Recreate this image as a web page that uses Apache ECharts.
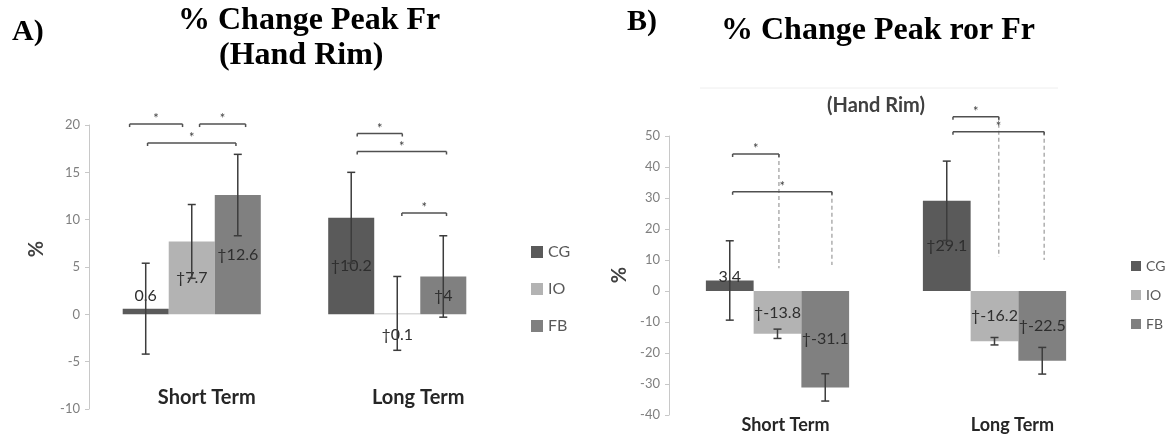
<!DOCTYPE html>
<html>
<head>
<meta charset="utf-8">
<script src="https://cdn.jsdelivr.net/npm/echarts@6/dist/echarts.min.js"></script>
<style>
  html, body { margin: 0; padding: 0; background: #fff; }
  #chart { width: 1170px; height: 437px; }
</style>
</head>
<body>
<div id="chart"></div>
<script>
// ---- data ----
const categories = ['Short Term', 'Long Term'];
const groups = ['CG', 'IO', 'FB'];

// A) % change in peak Fr (hand rim)
const peakFrCG = [0.6, 10.2];
const peakFrIO = [7.7, 0.1];
const peakFrFB = [12.6, 4];
const peakFrErrCG = [4.8, 4.8];
const peakFrErrIO = [3.9, 3.9];
const peakFrErrFB = [4.3, 4.3];
const peakFrDaggerCG = [false, true];
const peakFrDaggerIO = [true, true];
const peakFrDaggerFB = [true, true];
const peakFrTicks = { min: -10, max: 20, interval: 5 };

// B) % change in peak rate of rise of Fr (hand rim)
const rorFrCG = [3.4, 29.1];
const rorFrIO = [-13.8, -16.2];
const rorFrFB = [-31.1, -22.5];
const rorFrErrCG = [12.8, 12.8];
const rorFrErrIO = [1.5, 1.2];
const rorFrErrFB = [4.4, 4.3];
const rorFrDaggerCG = [false, true];
const rorFrDaggerIO = [true, true];
const rorFrDaggerFB = [true, true];
const rorFrTicks = { min: -40, max: 50, interval: 10 };

// significance brackets: [category, from bar slot, to bar slot, level]
const peakFrBrackets = [
  [0, -1.35, -0.2, 20.1], [0, 0.17, 1.17, 20.1], [0, -0.96, 0.96, 18.1],
  [1, -0.87, 0.11, 19.1], [1, -0.87, 1.07, 17.2], [1, 0.1, 1.07, 10.7]
];
const rorFrBrackets = [
  [0, -0.94, 0.03, 44.2], [0, -0.94, 1.14, 32],
  [1, -0.87, 0.09, 56.2], [1, -0.87, 1.04, 51.4]
];
// dashed leader lines: [category, bar slot, from level, to level]
const rorFrLeaders = [
  [0, 0.03, 44.2, 7.3], [0, 1.14, 32, 8.4],
  [1, 0.09, 56.2, 11], [1, 1.04, 51.4, 10]
];

// ---- styling ----
const colors = { CG: '#5a5a5a', IO: '#b3b3b3', FB: '#808080' };
const sans = 'Lato, "Open Sans", sans-serif';
const serif = '"Liberation Serif", "Times New Roman", serif';
const BAR_A = 0.224, BAR_B = 0.22;
const slotOf = { CG: -1, IO: 0, FB: 1 };

function barSeries(name, vals, daggers, axis, frac, fontSize, placement) {
  return {
    type: 'bar', name: name, xAxisIndex: axis, yAxisIndex: axis,
    barWidth: (frac * 100) + '%', barGap: '0%',
    itemStyle: { color: colors[name] },
    data: vals.map(function (v, i) {
      const p = placement[i] || { position: 'inside', distance: 0 };
      return {
        value: v,
        label: {
          show: true, position: p.position, distance: p.distance,
          formatter: (daggers[i] ? '\u2020' : '') + v,
          fontFamily: sans, fontSize: fontSize, color: '#2e2e2e'
        }
      };
    })
  };
}

function errorSeries(name, vals, errs, axis, frac) {
  const slot = slotOf[name];
  return {
    type: 'custom', name: name + ' error', xAxisIndex: axis, yAxisIndex: axis,
    z: 3, silent: true,
    data: vals.map(function (v, i) { return [i, v - errs[i], v + errs[i]]; }),
    renderItem: function (params, api) {
      const band = api.size([1, 0])[0];
      const cx = api.coord([api.value(0), 0])[0] + slot * band * frac;
      const lo = api.coord([api.value(0), api.value(1)])[1];
      const hi = api.coord([api.value(0), api.value(2)])[1];
      const c = 4;
      const st = { stroke: '#3c3c3c', lineWidth: 1.5 };
      return { type: 'group', children: [
        { type: 'line', shape: { x1: cx, y1: hi, x2: cx, y2: lo }, style: st },
        { type: 'line', shape: { x1: cx - c, y1: hi, x2: cx + c, y2: hi }, style: st },
        { type: 'line', shape: { x1: cx - c, y1: lo, x2: cx + c, y2: lo }, style: st }
      ] };
    }
  };
}

function bracketSeries(list, axis, frac, color, lw) {
  return {
    type: 'custom', name: 'sig' + axis, xAxisIndex: axis, yAxisIndex: axis,
    clip: false, silent: true, z: 4,
    data: list,
    renderItem: function (params, api) {
      const band = api.size([1, 0])[0];
      const c = api.coord([api.value(0), api.value(3)]);
      const x1 = c[0] + api.value(1) * band * frac;
      const x2 = c[0] + api.value(2) * band * frac;
      const y = c[1];
      const st = { stroke: color, lineWidth: lw };
      return { type: 'group', children: [
        { type: 'line', shape: { x1: x1, y1: y, x2: x2, y2: y }, style: st },
        { type: 'line', shape: { x1: x1, y1: y, x2: x1, y2: y + 3 }, style: st },
        { type: 'line', shape: { x1: x2, y1: y, x2: x2, y2: y + 3 }, style: st },
        { type: 'text', x: (x1 + x2) / 2, y: y - 5,
          style: { text: '*', fill: '#404040', font: '13px ' + sans, align: 'center', verticalAlign: 'middle' } }
      ] };
    }
  };
}

function leaderSeries(list, axis, frac) {
  return {
    type: 'custom', name: 'leader' + axis, xAxisIndex: axis, yAxisIndex: axis,
    clip: false, silent: true, z: 1,
    data: list,
    renderItem: function (params, api) {
      const band = api.size([1, 0])[0];
      const top = api.coord([api.value(0), api.value(2)]);
      const bot = api.coord([api.value(0), api.value(3)]);
      const x = top[0] + api.value(1) * band * frac;
      return { type: 'line', shape: { x1: x, y1: top[1], x2: x, y2: bot[1] },
        style: { stroke: '#9a9a9a', lineWidth: 1.2, lineDash: [4, 3] } };
    }
  };
}

function valueAxis(grid, ticks, fontSize) {
  return {
    type: 'value', gridIndex: grid, min: ticks.min, max: ticks.max, interval: ticks.interval,
    axisLine: { show: true, lineStyle: { color: '#c8c8c8', width: 1 } },
    axisTick: { show: true, length: 4, lineStyle: { color: '#c8c8c8' } },
    splitLine: { show: false },
    axisLabel: { color: '#7f7f7f', fontSize: fontSize, fontFamily: sans, margin: 9 }
  };
}

function categoryAxis(grid, fontSize, margin, shifts) {
  return {
    type: 'category', gridIndex: grid,
    data: categories.map(function (c, i) {
      return { value: c, textStyle: { padding: [0, 0, 0, shifts[i] * 2] } };
    }),
    axisLine: { show: false }, axisTick: { show: false },
    axisLabel: { fontFamily: sans, fontWeight: 'bold', fontSize: fontSize, color: '#262626', margin: margin }
  };
}

const placeA = {
  CG: [{ position: 'top', distance: 5 }],
  IO: [null, { position: 'bottom', distance: 13 }],
  FB: []
};
const placeB = {
  CG: [{ position: 'top', distance: -4 }],
  IO: [],
  FB: []
};

const option = {
  animation: false,
  grid: [
    { left: 89, top: 125, width: 411, height: 284 },
    { left: 669, top: 136, width: 434, height: 279 }
  ],
  xAxis: [
    categoryAxis(0, 20, -21, [15, 21]),
    categoryAxis(1, 18, 1, [8, 18])
  ],
  yAxis: [
    valueAxis(0, peakFrTicks, 13),
    valueAxis(1, rorFrTicks, 13)
  ],
  legend: [
    { data: groups, orient: 'vertical', left: 526, top: 239, icon: 'rect',
      itemWidth: 12, itemHeight: 12, itemGap: 21, selectedMode: false,
      textStyle: { fontFamily: sans, fontSize: 16, color: '#595959' } },
    { data: groups, orient: 'vertical', left: 1126, top: 254, icon: 'rect',
      itemWidth: 10, itemHeight: 10, itemGap: 15, selectedMode: false,
      textStyle: { fontFamily: sans, fontSize: 14, color: '#595959' } }
  ],
  graphic: [
    { type: 'text', left: 12, top: 17, style: { text: 'A)', font: 'bold 30px ' + serif, fill: '#000' } },
    { type: 'text', left: 178, top: 5, style: { text: '% Change Peak Fr', font: 'bold 32px ' + serif, fill: '#000' } },
    { type: 'text', left: 219, top: 40, style: { text: '(Hand Rim)', font: 'bold 32px ' + serif, fill: '#000' } },
    { type: 'text', left: 627, top: 7, style: { text: 'B)', font: 'bold 30px ' + serif, fill: '#000' } },
    { type: 'text', left: 721, top: 15, style: { text: '% Change Peak ror Fr', font: 'bold 32px ' + serif, fill: '#000' } },
    { type: 'line', shape: { x1: 700, y1: 88, x2: 1058, y2: 88 }, style: { stroke: '#eeeeee', lineWidth: 1 } },
    { type: 'text', left: 827, top: 96, style: { text: '(Hand Rim)', font: 'bold 20px ' + sans, fill: '#404040' } },
    { type: 'text', x: 37, y: 249, rotation: Math.PI / 2,
      style: { text: '%', font: 'bold 20px ' + sans, fill: '#404040', align: 'center', verticalAlign: 'middle' } },
    { type: 'text', x: 620, y: 275, rotation: Math.PI / 2,
      style: { text: '%', font: 'bold 20px ' + sans, fill: '#404040', align: 'center', verticalAlign: 'middle' } }
  ],
  series: [
    barSeries('CG', peakFrCG, peakFrDaggerCG, 0, BAR_A, 16, placeA.CG),
    barSeries('IO', peakFrIO, peakFrDaggerIO, 0, BAR_A, 16, placeA.IO),
    barSeries('FB', peakFrFB, peakFrDaggerFB, 0, BAR_A, 16, placeA.FB),
    errorSeries('CG', peakFrCG, peakFrErrCG, 0, BAR_A),
    errorSeries('IO', peakFrIO, peakFrErrIO, 0, BAR_A),
    errorSeries('FB', peakFrFB, peakFrErrFB, 0, BAR_A),
    bracketSeries(peakFrBrackets, 0, BAR_A, '#505050', 1.5),

    leaderSeries(rorFrLeaders, 1, BAR_B),
    barSeries('CG', rorFrCG, rorFrDaggerCG, 1, BAR_B, 16, placeB.CG),
    barSeries('IO', rorFrIO, rorFrDaggerIO, 1, BAR_B, 16, placeB.IO),
    barSeries('FB', rorFrFB, rorFrDaggerFB, 1, BAR_B, 16, placeB.FB),
    errorSeries('CG', rorFrCG, rorFrErrCG, 1, BAR_B),
    errorSeries('IO', rorFrIO, rorFrErrIO, 1, BAR_B),
    errorSeries('FB', rorFrFB, rorFrErrFB, 1, BAR_B),
    bracketSeries(rorFrBrackets, 1, BAR_B, '#505050', 1.5)
  ]
};

const chart = echarts.init(document.getElementById('chart'), null, { renderer: 'canvas' });
chart.setOption(option);
</script>
</body>
</html>
